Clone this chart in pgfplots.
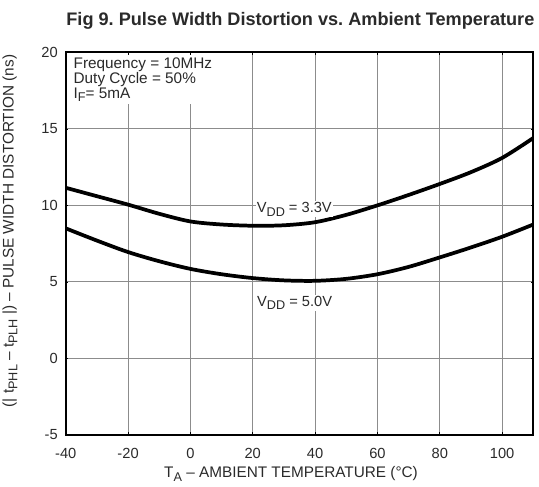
\documentclass[border=0pt]{standalone}
\usepackage{pgfplots}
\pgfplotsset{compat=1.18}
\usepackage{fontspec}
\setmainfont{Liberation Sans}
\frenchspacing
\definecolor{txt}{HTML}{2A2A2A}
\newcommand\sub[1]{\raisebox{-0.45ex}{\fontsize{9.5}{10}\selectfont #1}}
\begin{document}
\begin{tikzpicture}
\begin{axis}[
  at={(0,0)}, anchor=south west,
  scale only axis,
  width=350.7pt, height=287pt,
  xmin=-40, xmax=110, ymin=-5, ymax=20,
  xtick={-40,-20,0,20,40,60,80,100},
  ytick={-5,0,5,10,15,20},
  grid=major,
  major grid style={black!45, line width=0.75pt},
  axis line style={black, line width=1.6pt},
  tick style={black, line width=0.5pt},
  major tick length=2pt,
  tick align=inside,
  /pgf/number format/assume math mode=true,
  ticklabel style={font=\fontsize{11}{12}\selectfont, text=txt},
  xticklabel style={anchor=base, yshift=-17.5pt},
  yticklabel style={xshift=-2.5pt},
]
\addplot[black, line width=2.8pt, smooth] coordinates {
(-40,11.15) (-30,10.6) (-20,10.05) (-10,9.45) (0,8.95) (10,8.75) (20,8.67) (30,8.7) (40,8.9) (50,9.38) (60,10.0) (70,10.68) (80,11.4) (90,12.17) (100,13.1) (110,14.4)
};
\addplot[black, line width=2.8pt, smooth] coordinates {
(-40,8.5) (-30,7.7) (-20,6.95) (-10,6.35) (0,5.85) (10,5.5) (20,5.25) (30,5.1) (40,5.07) (50,5.2) (60,5.5) (70,5.98) (80,6.6) (90,7.25) (100,7.95) (110,8.75)
};
\node[fill=white, inner sep=1pt, anchor=base west, font=\fontsize{11}{12}\selectfont, text=txt] at (axis cs:20.8,9.53) {V\sub{DD} = 3.3V};
\node[fill=white, inner sep=1pt, anchor=base west, font=\fontsize{11}{12}\selectfont, text=txt] at (axis cs:20.9,3.42) {V\sub{DD} = 5.0V};
\node[fill=white, inner xsep=2pt, inner ysep=2pt, anchor=north west, align=left, font=\fontsize{11.5}{10.6}\selectfont, text=txt] at (axis cs:-38.4,19.85) {Frequency = 10MHz\\Duty Cycle = 50\%\\I\sub{F}= 5mA};
\end{axis}
\node[font=\fontsize{13.6}{14}\bfseries, text=txt] at (176pt,310.5pt) {Fig 9. Pulse Width Distortion vs. Ambient Temperature};
\node[font=\fontsize{11.5}{12}\selectfont, text=txt] at (169pt,-29.3pt) {T\sub{A} -- AMBIENT TEMPERATURE (°C)};
\node[font=\fontsize{11.5}{12}\selectfont, text=txt, rotate=90] at (-41.8pt,153pt) {(| t\sub{PHL} -- t\sub{PLH} |) -- PULSE WIDTH DISTORTION (ns)};
\pgfresetboundingbox
\path[use as bounding box] (-49.3pt,-39pt) rectangle (355pt,326.25pt);
\end{tikzpicture}
\end{document}
